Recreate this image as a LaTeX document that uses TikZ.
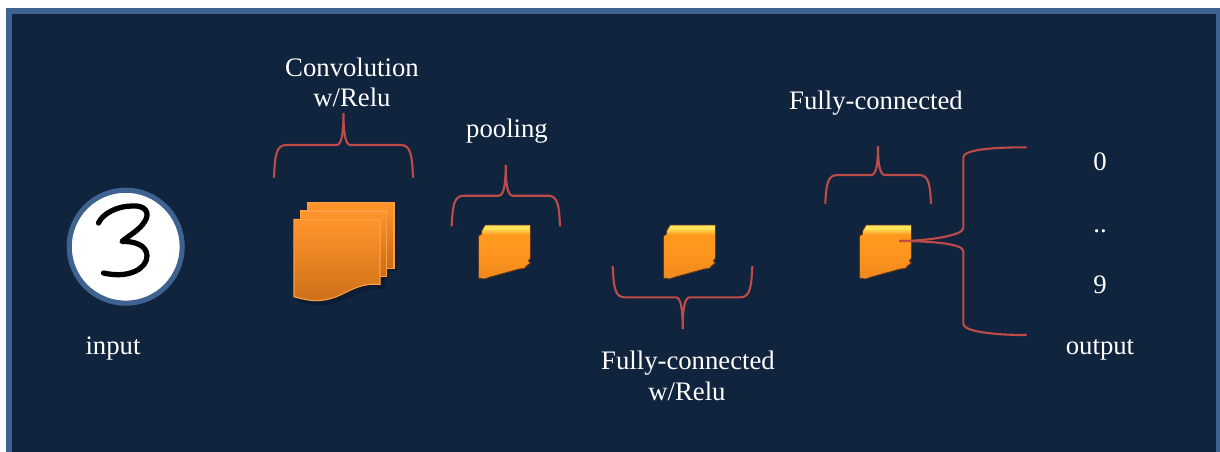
\documentclass[tikz,border=0pt]{standalone}
\usepackage{fontspec}
\setmainfont{Liberation Serif}
\usepackage{xcolor}
\usepackage{tikz}
\definecolor{panelblue}{HTML}{10243E}
\definecolor{ringblue}{HTML}{3F6391}
\definecolor{braceread}{HTML}{BE4B48}
\definecolor{sheetline}{HTML}{FF9F45}
\definecolor{sheettop}{HTML}{FF952B}
\definecolor{sheetlow}{HTML}{C96B18}
\definecolor{sheetshade}{HTML}{0C1D33}
\definecolor{cubelow}{HTML}{D8A25E}
\definecolor{cubemid}{HTML}{F28A1C}
\definecolor{cubebody}{HTML}{FF981E}
\definecolor{cubetop}{HTML}{FFE45A}
\definecolor{cubeedge}{HTML}{5E3422}
\pgfdeclareverticalshading{cubeshade}{100bp}{color(0bp)=(cubelow); color(25bp)=(cubelow); color(28bp)=(cubemid); color(55bp)=(cubebody); color(66bp)=(cubebody); color(72bp)=(cubetop); color(75bp)=(cubetop); color(100bp)=(cubetop)}
\tikzset{
  caption/.style={text=white, font=\fontsize{15.2}{15.2}\selectfont, anchor=base, align=center, inner sep=0pt},
  brace/.style={draw=braceread, line width=1.2pt, line cap=round},
  sheet/.style={draw=sheetline, line width=.6pt, top color=sheettop, bottom color=sheetlow},
  cube/.pic={
    \shade [shading=cubeshade, draw=cubeedge, line width=.5pt]
      (-19.5, -27) -- (26, -27) -- (26, 6) -- (24, 9) -- (26, 11) -- (22, 14) -- (20, 16.5) -- (15, 17)
      -- (-14, 25) -- (-20, 27) -- (-26, 26) -- (-26, -16) -- (-23, -18) -- (-23, -21) -- cycle;
  }
}
% curly bracket: left, right, tip position in x, tip level, flat level, end level
\newcommand{\curlybrace}[6]{
  \draw [brace] (#1, #6) .. controls (#1 + 1, #5 + .35 * #6 - .35 * #5) and (#1 + 2, #5) .. (#1 + 12, #5)
    -- (#3 - 7, #5) .. controls (#3 - 2, #5) and (#3, #5 + .35 * #4 - .35 * #5) .. (#3, #4)
    .. controls (#3, #5 + .35 * #4 - .35 * #5) and (#3 + 2, #5) .. (#3 + 7, #5)
    -- (#2 - 12, #5) .. controls (#2 - 2, #5) and (#2 - 1, #5 + .35 * #6 - .35 * #5) .. (#2, #6);
}
\begin{document}
\begin{tikzpicture}[x=.02cm, y=-.02cm, >=latex]
  \useasboundingbox (0, 0) rectangle (1220, 451);
  % panel runs past the lower edge of the page
  \clip (0, 0) rectangle (1220, 451);
  \fill [white] (0, 0) rectangle (1220, 451);
  \draw [draw=ringblue, fill=panelblue, line width=3.4pt] (9, 11) rectangle (1219, 480);

  % input digit
  \coordinate (digit) at (125.7, 246.7);
  \draw [draw=ringblue, fill=white, line width=2.9pt] (digit) circle (56.5);
  \draw [black, line width=3pt, line cap=round, line join=round]
    (98.5, 223) .. controls (103, 213) and (118, 206) .. (132, 206)
    .. controls (146, 205) and (150, 213) .. (145, 221)
    .. controls (140, 230) and (128, 236) .. (122, 241.5)
    .. controls (134, 241) and (147, 245) .. (147, 256)
    .. controls (147, 268) and (130, 279) .. (103.5, 273);

  % stack of convolution sheets
  \fill [sheetshade] (311, 207) rectangle (397, 272);
  \fill [sheetshade] (297, 224) -- (387, 224) -- (387, 280) -- (384, 289)
    .. controls (349, 286) and (344, 316) .. (297, 301) -- cycle;
  \path [sheet] (307.3, 202.7) rectangle (394, 268.3);
  \path [sheet] (300.7, 211) rectangle (386.7, 276.7);
  \path [sheet] (294, 219.3) -- (380, 219.3) -- (380, 284.5)
    .. controls (345, 281) and (340, 311) .. (294, 296.7) -- cycle;

  % small cubes
  \coordinate (cubeA) at (504.5, 252);
  \coordinate (cubeB) at (689.5, 252);
  \coordinate (cubeC) at (885.5, 252);
  \pic at (cubeA) {cube};
  \pic at (cubeB) {cube};
  \pic at (cubeC) {cube};

  % brackets
  \curlybrace{274}{413}{343.5}{113}{145}{177}
  \curlybrace{451.7}{560}{505.7}{165}{195.7}{225.7}
  \curlybrace{612.7}{752.3}{682.7}{329}{297.3}{266.7}
  \curlybrace{825.3}{931}{878}{146}{175}{203.3}

  % bracket towards the output digits
  \coordinate (fan) at (900, 241);
  \draw [brace] (fan) .. controls (925, 241) and (963, 236) .. (963.3, 228)
    -- (963.3, 157) .. controls (964, 150) and (990, 147.3) .. (1026, 147.3);
  \draw [brace] (fan) .. controls (925, 241) and (963, 243) .. (963.3, 251)
    -- (963.3, 324) .. controls (964, 331) and (990, 335) .. (1026, 335);

  \node [caption] (convlabel) at (352, 76.5) {Convolution};
  \node [caption] (convrelu) at (352, 106.5) {w/Relu};
  \node [caption] (poollabel) at (507, 137.5) {pooling};
  \node [caption] (fclabel) at (688, 369.5) {Fully-connected};
  \node [caption] (fcrelu) at (687, 400) {w/Relu};
  \node [caption] (fulllabel) at (876, 109) {Fully-connected};
  \node [caption] (inputlabel) at (113, 354) {input};
  \node [caption] (zero) at (1100, 170) {0};
  \node [caption] (dots) at (1100, 232) {..};
  \node [caption] (nine) at (1100, 293) {9};
  \node [caption] (outputlabel) at (1100, 354) {output};
\end{tikzpicture}
\end{document}
